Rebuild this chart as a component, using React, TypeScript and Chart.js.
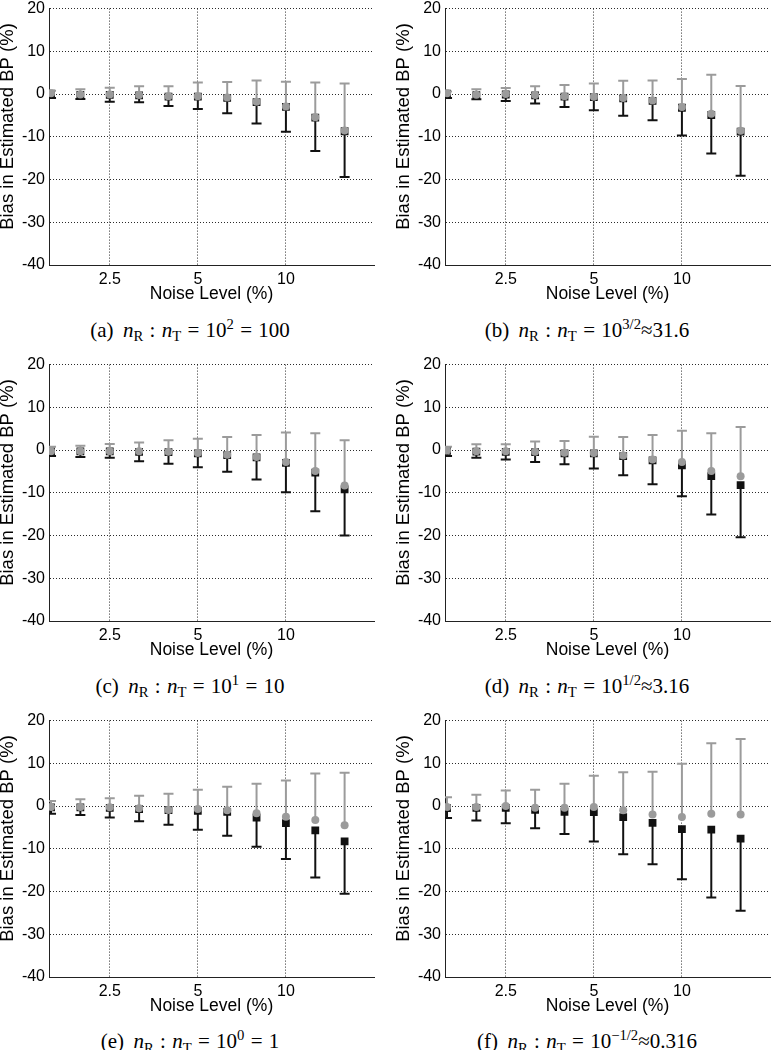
import React, { useEffect, useRef } from "react";
import { Chart, registerables } from "chart.js";

Chart.register(...registerables);

// ---- data ----
const noiseLevels = [1.575, 1.984, 2.5, 3.15, 3.969, 5, 6.3, 7.937, 10, 12.6, 15.87];
const xTickValues = [2.5, 5, 10];
const xMin = 1.55;
const xMax = 20;
const yMin = -40;
const yMax = 20;
const yStep = 10;

const greyMean_a = [0.2, -0.1, -0.1, -0.2, -0.5, -0.5, -0.8, -1.8, -2.9, -5.4, -8.5];
const greyHigh_a = [0.8, 1.1, 1.5, 1.8, 1.8, 2.7, 2.8, 3.2, 2.9, 2.7, 2.5];
const blackMean_a = [0.1, -0.2, -0.2, -0.3, -0.6, -0.6, -0.9, -1.9, -3.0, -5.5, -8.7];
const blackLow_a = [-0.9, -1.15, -1.8, -1.9, -2.8, -3.5, -4.5, -6.9, -8.8, -13.3, -19.4];

const greyMean_b = [0.2, -0.15, 0, -0.2, -0.5, -0.6, -0.9, -1.5, -3.0, -4.6, -8.6];
const greyHigh_b = [0.6, 1.15, 1.4, 1.8, 2.15, 2.5, 3.1, 3.2, 3.5, 4.5, 1.9];
const blackMean_b = [0.1, -0.25, -0.1, -0.3, -0.6, -0.7, -1.0, -1.6, -3.2, -4.9, -8.8];
const blackLow_b = [-0.9, -1.2, -1.6, -2.2, -3.0, -3.8, -5.1, -6.1, -9.7, -13.9, -19.1];

const greyMean_c = [-0.25, -0.25, -0.25, -0.3, -0.4, -0.7, -1.1, -1.6, -2.8, -4.9, -8.3];
const greyHigh_c = [0.75, 1.0, 1.4, 1.75, 2.3, 2.65, 3.05, 3.5, 4.1, 3.95, 2.3];
const blackMean_c = [-0.3, -0.3, -0.3, -0.4, -0.5, -0.8, -1.2, -1.7, -3.0, -5.3, -9.2];
const blackLow_c = [-1.4, -1.6, -1.8, -2.6, -3.2, -4.0, -5.1, -6.9, -9.85, -14.3, -20.0];

const greyMean_d = [-0.1, -0.25, -0.3, -0.4, -0.65, -0.7, -1.3, -2.2, -2.8, -4.9, -6.1];
const greyHigh_d = [0.8, 1.35, 1.35, 2.0, 2.1, 3.1, 3.05, 3.5, 4.5, 3.95, 5.4];
const blackMean_d = [-0.2, -0.35, -0.4, -0.5, -0.75, -0.8, -1.4, -2.4, -3.55, -6.1, -8.2];
const blackLow_d = [-1.4, -1.8, -2.2, -2.8, -3.3, -4.3, -5.9, -8.0, -10.8, -15.1, -20.4];

const greyMean_e = [-0.2, -0.2, -0.3, -0.5, -0.9, -0.7, -1.0, -1.7, -2.5, -3.25, -4.5];
const greyHigh_e = [1.2, 1.6, 1.8, 2.4, 2.9, 3.8, 4.5, 5.2, 6.0, 7.65, 7.8];
const blackMean_e = [-0.3, -0.3, -0.4, -0.7, -0.95, -1.1, -1.35, -2.7, -4.0, -5.7, -8.25];
const blackLow_e = [-1.8, -2.1, -2.7, -3.55, -4.4, -5.55, -6.95, -9.5, -12.4, -16.7, -20.5];

const greyMean_f = [-0.2, -0.2, 0, -0.4, -0.4, -0.2, -0.95, -1.95, -2.55, -1.8, -1.95];
const greyHigh_f = [2.05, 2.65, 3.65, 3.8, 5.2, 7.1, 7.9, 8.05, 9.9, 14.7, 15.7];
const blackMean_f = [-0.5, -0.4, -0.4, -0.9, -1.35, -1.4, -2.6, -3.95, -5.4, -5.5, -7.6];
const blackLow_f = [-2.8, -3.4, -4.0, -5.2, -6.55, -8.3, -11.3, -13.6, -17.15, -21.4, -24.5];

const panelLetters = ["a", "b", "c", "d", "e", "f"];
const ratioExponents = ["2", "3/2", "1", "1/2", "0", "\u22121/2"];
const ratioRelations = ["=", "\u2248", "=", "\u2248", "=", "\u2248"];
const ratioResults = ["100", "31.6", "10", "3.16", "1", "0.316"];

const xAxisTitle = "Noise Level (%)";
const yAxisTitle = "Bias in Estimated BP (%)";

// ---- styles ----
const SANS = "'Liberation Sans', Arial, Helvetica, sans-serif";
const SERIF = "'Liberation Serif', 'DejaVu Serif', serif";
const GREY = "#9b9b9b";
const BLACK = "#111111";
const GRID = "rgba(20,20,20,0.9)";

const CANVAS_W = 384;
const CANVAS_H = 310;

function Panel(props: {
  left: number;
  top: number;
  greyMean: number[];
  greyHigh: number[];
  blackMean: number[];
  blackLow: number[];
}) {
  const ref = useRef<HTMLCanvasElement | null>(null);
  useEffect(() => {
    const { greyMean, greyHigh, blackMean, blackLow } = props;
    const pts = (arr: number[]) => noiseLevels.map((x, i) => ({ x, y: arr[i] }));
    const whisker = (from: number[], to: number[]) =>
      noiseLevels.flatMap((x, i) => [
        { x, y: from[i] },
        { x, y: to[i] },
        { x, y: null as any },
      ]);
    const chart = new Chart(ref.current as HTMLCanvasElement, {
      type: "scatter",
      data: {
        datasets: [
          {
            data: pts(greyMean),
            pointStyle: "circle",
            pointRadius: 4,
            pointBackgroundColor: GREY,
            pointBorderColor: GREY,
            pointBorderWidth: 0,
          },
          {
            data: pts(greyHigh),
            pointStyle: "line",
            pointRadius: 5,
            pointBorderColor: GREY,
            pointBorderWidth: 2,
          },
          {
            data: whisker(greyMean, greyHigh),
            showLine: true,
            spanGaps: false,
            pointRadius: 0,
            borderColor: GREY,
            borderWidth: 2,
          },
          {
            data: pts(blackMean),
            pointStyle: "rect",
            pointRadius: 5.5,
            pointBackgroundColor: BLACK,
            pointBorderColor: BLACK,
            pointBorderWidth: 0,
          },
          {
            data: pts(blackLow),
            pointStyle: "line",
            pointRadius: 5,
            pointBorderColor: BLACK,
            pointBorderWidth: 2,
          },
          {
            data: whisker(blackMean, blackLow),
            showLine: true,
            spanGaps: false,
            pointRadius: 0,
            borderColor: BLACK,
            borderWidth: 2,
          },
        ] as any,
      },
      options: {
        animation: false,
        responsive: false,
        events: [],
        layout: { padding: { top: 10, left: 0, right: 0, bottom: 0 } },
        plugins: { legend: { display: false }, tooltip: { enabled: false } },
        scales: {
          x: {
            type: "logarithmic",
            min: xMin,
            max: xMax,
            afterBuildTicks: (scale: any) => {
              scale.ticks = xTickValues.map((v) => ({ value: v }));
            },
            afterFit: (scale: any) => {
              scale.height = 40;
            },
            ticks: {
              callback: (v: any) => String(v),
              font: { family: SANS, size: 16 },
              color: "#000",
              padding: 5,
              maxRotation: 0,
              autoSkip: false,
            },
            grid: { color: GRID, lineWidth: 1, drawTicks: false },
            border: { display: true, color: "#222", width: 1, dash: [1, 2] },
            title: {
              display: true,
              text: xAxisTitle,
              font: { family: SANS, size: 17.5 },
              color: "#000",
              padding: { top: 0, bottom: 0 },
            },
          },
          y: {
            type: "linear",
            min: yMin,
            max: yMax,
            afterFit: (scale: any) => {
              scale.width = 52;
            },
            ticks: {
              stepSize: yStep,
              font: { family: SANS, size: 16 },
              color: "#000",
              padding: 4,
            },
            grid: { color: GRID, lineWidth: 1, drawTicks: false },
            border: { display: true, color: "#222", width: 1, dash: [1, 2] },
            title: {
              display: true,
              // leading spaces lift the rotated label slightly, as in the original figure
              text: "\u00a0\u00a0\u00a0\u00a0" + yAxisTitle,
              font: { family: SANS, size: 18.5 },
              color: "#000",
              padding: { top: 0, bottom: 0 },
            },
          },
        },
      } as any,
    });
    return () => chart.destroy();
  }, []);
  return (
    <canvas
      ref={ref}
      width={CANVAS_W}
      height={CANVAS_H}
      style={{ position: "absolute", left: props.left, top: props.top, width: CANVAS_W, height: CANVAS_H }}
    />
  );
}

function Caption(props: {
  cx: number;
  cy: number;
  letter: string;
  exponent: string;
  relation: string;
  result: string;
}) {
  const small: React.CSSProperties = { fontSize: "0.7em", lineHeight: 0, position: "relative" };
  const op = (s: string, m: string) => <span style={{ margin: `0 ${m}` }}>{s}</span>;
  const spaced = props.relation === "=";
  return (
    <div
      style={{
        position: "absolute",
        left: props.cx - 160,
        top: props.cy - 13,
        width: 320,
        textAlign: "center",
        fontFamily: SERIF,
        fontSize: 21,
        lineHeight: "26px",
        whiteSpace: "nowrap",
        color: "#000",
      }}
    >
      ({props.letter})
      <span style={{ marginLeft: "0.45em" }}>
        <i>n</i>
      </span>
      <span style={{ ...small, top: "0.3em" }}>R</span>
      {op(":", "0.3em")}
      <i>n</i>
      <span style={{ ...small, top: "0.3em" }}>T</span>
      {op("=", "0.3em")}
      10
      <span style={{ ...small, top: "-0.55em" }}>{props.exponent}</span>
      {op(props.relation, spaced ? "0.3em" : "0")}
      {props.result}
    </div>
  );
}

export default function App() {
  const greyMeans = [greyMean_a, greyMean_b, greyMean_c, greyMean_d, greyMean_e, greyMean_f];
  const greyHighs = [greyHigh_a, greyHigh_b, greyHigh_c, greyHigh_d, greyHigh_e, greyHigh_f];
  const blackMeans = [blackMean_a, blackMean_b, blackMean_c, blackMean_d, blackMean_e, blackMean_f];
  const blackLows = [blackLow_a, blackLow_b, blackLow_c, blackLow_d, blackLow_e, blackLow_f];
  const colLeft = [-3, 393];
  const capCx = [190, 587];
  const rowPitch = 355.7;
  return (
    <div
      style={{
        position: "fixed",
        left: 0,
        top: 0,
        width: 778,
        height: 1050,
        overflow: "hidden",
        background: "#fff",
      }}
    >
      {panelLetters.map((letter, i) => {
        const col = i % 2;
        const row = Math.floor(i / 2);
        return (
          <React.Fragment key={letter}>
            <Panel
              left={colLeft[col]}
              top={-4.7 + row * rowPitch}
              greyMean={greyMeans[i]}
              greyHigh={greyHighs[i]}
              blackMean={blackMeans[i]}
              blackLow={blackLows[i]}
            />
            <Caption
              cx={capCx[col]}
              cy={330 + row * rowPitch}
              letter={letter}
              exponent={ratioExponents[i]}
              relation={ratioRelations[i]}
              result={ratioResults[i]}
            />
          </React.Fragment>
        );
      })}
    </div>
  );
}
